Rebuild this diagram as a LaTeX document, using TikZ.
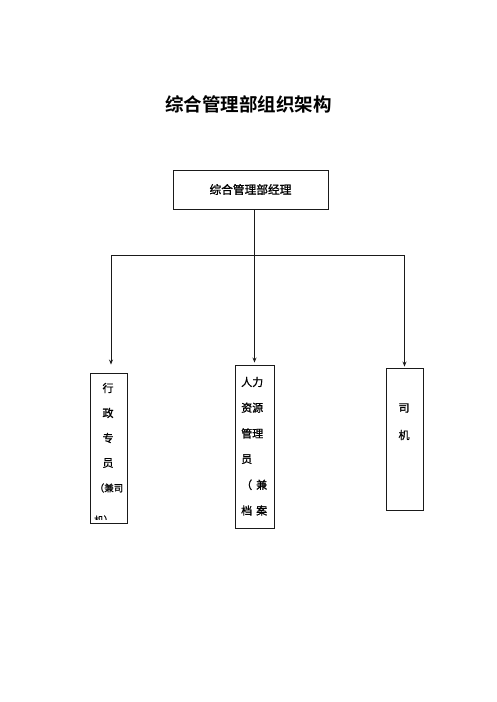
\documentclass[tikz,border=0pt]{standalone}
\usepackage{fontspec}
\newfontfamily\cjk[FakeBold=1.2]{Noto Sans CJK SC}
\newfontfamily\cjkbold{Noto Sans CJK SC Bold}
\usepackage[dvipsnames,svgnames,x11names]{xcolor}
\definecolor{OrgLine}{HTML}{1A1A1A}
\usetikzlibrary{arrows.meta,positioning,calc}
\tikzset{
  orgbox/.style={rectangle,draw=OrgLine,line width=0.9pt,inner sep=0pt},
  orgtext/.style={inner sep=0pt,font=\cjk\fontsize{11}{13}\selectfont},
  smalltext/.style={inner sep=0pt,font=\cjk\fontsize{9.5}{11}\selectfont},
  orgedge/.style={-{Stealth[length=5pt,width=4pt]},OrgLine,line width=0.9pt},
  orgline/.style={OrgLine,line width=0.9pt},
}

\begin{document}
\begin{tikzpicture}[x=1pt,y=-1pt]
  \useasboundingbox (0,0) rectangle (496,702);
  \node[inner sep=0pt,font=\cjkbold\fontsize{18.5}{22}\selectfont](title)at(248.5,104)
    {综合管理部组织架构};
  \node[orgbox,minimum width=155pt,minimum height=39pt,
    font=\cjk\fontsize{11.7}{14}\selectfont](mgr)at(250.5,189.5)
    {综合管理部经理};
  \node[orgbox,minimum width=37pt,minimum height=150pt](admin)at(108.5,448){};
  \node[orgbox,minimum width=39pt,minimum height=163pt](hr)at(254.5,446.5){};
  \node[orgbox,minimum width=37pt,minimum height=142pt](driver)at(404.5,439){};
  % split point of the tree
  \coordinate(split)at($(mgr.south)+(4,46)$);
  \draw[orgedge,shorten >=2pt](mgr.south-|split)--(split)--(split|-hr.north);
  \draw[orgedge,shorten >=8pt](split)-|([xshift=2.5pt]admin.north);
  \draw[orgedge,shorten >=1pt](split)-|(driver.north);
  % box texts
  \begin{scope}
    \clip([yshift=-4pt]admin.north west)rectangle([yshift=4pt]admin.south east);
    \foreach \t[count=\i from 0] in {行,政,专,员}
      \node[orgtext](adm\i)at(108,388+25*\i){\t};
    \node[smalltext](adm4)at(109,488){（兼司};
    \node[smalltext,anchor=west](adm5)at(94,520){机）};
  \end{scope}
  \foreach \t[count=\i from 0] in {人力,资源,管理,员,（\hspace{4pt}兼,档\hspace{4pt}案}
    \node[orgtext,anchor=west](hr\i)at(241,382+25.7*\i){\t};
  \node[orgtext](drv0)at(404,408){司};
  \node[orgtext](drv1)at(404,435){机};
\end{tikzpicture}
\end{document}
